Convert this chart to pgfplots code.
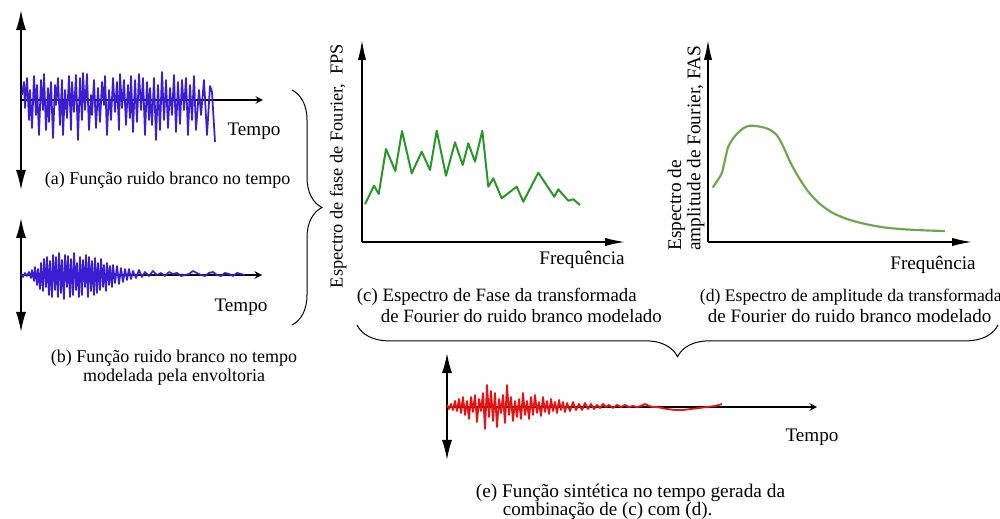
\documentclass[border=0pt]{standalone}
\usepackage{fontspec}
\setmainfont{Liberation Serif}
\usepackage{pgfplots}
\pgfplotsset{compat=1.18}
\usetikzlibrary{arrows.meta,decorations.pathreplacing}
\definecolor{sigblue}{RGB}{60,30,210}
\definecolor{fpsgreen}{RGB}{40,150,40}
\definecolor{fasgreen}{RGB}{110,165,80}
\definecolor{sigred}{RGB}{228,20,20}
\pgfplotsset{
  sk/.style={x=0.6pt,y=0.6pt,ticks=none,clip=false,anchor=origin,
    axis line style={line width=0.95pt,-{Latex[length=13pt,width=5pt]}}},
  skmid/.style={sk,axis lines=middle,
    y axis line style={{Latex[length=12pt,width=6pt]}-{Latex[length=12pt,width=6pt]}}},
  skleft/.style={sk,axis lines=left,xmin=0,ymin=0,
    x axis line style={-{Latex[length=12pt,width=5pt]}},
    y axis line style={-{Latex[length=12pt,width=5pt]}}},
}
\begin{document}
\begin{tikzpicture}
\useasboundingbox (0,0) rectangle (600pt,310.8pt);
% (a) white noise
\begin{axis}[skmid,at={(12.6pt,250.8pt)},xmin=0,xmax=242,ymin=-90,ymax=90]
\addplot[sigblue,line width=1.05pt,line join=round] coordinates {
(1,5) (3,18) (4,-8) (6,22) (8,-20) (9,10) (11,-28) (13,24) (15,-15) (16,15) (18,-35) (20,20) (22,-10) (23,26) (25,-30) (27,12) (28,-22) (30,18) (32,-38) (34,15) (35,-5) (37,22) (39,-25) (41,20) (42,-35) (44,10) (46,-18) (48,24) (50,-30) (51,18) (53,-12) (55,25) (57,-40) (59,22) (61,-20) (62,27) (64,-10) (66,26) (68,-30) (70,5) (71,-15) (73,20) (75,-28) (77,12) (79,-22) (81,18) (83,-5) (84,24) (86,-35) (88,10) (90,-20) (92,22) (94,-12) (96,18) (98,-30) (99,26) (101,-8) (103,20) (105,-25) (107,15) (109,-18) (110,24) (112,-32) (114,20) (116,-22) (118,26) (120,-10) (122,22) (124,-35) (126,18) (128,-20) (129,12) (131,-25) (133,22) (135,-40) (137,15) (139,-30) (141,28) (143,-20) (145,20) (147,-28) (149,12) (151,-15) (153,25) (155,-32) (157,18) (159,-24) (161,20) (163,-10) (165,22) (167,-35) (169,15) (171,-20) (173,24) (175,-30) (178,10) (180,-15) (183,20) (186,-35) (189,14) (191,8) (194,-42)
};
\end{axis}
% (b) modulated noise
\begin{axis}[skmid,at={(12.6pt,145.8pt)},xmin=0,xmax=241,ymin=-57,ymax=57]
\addplot[sigblue,line width=1.05pt,line join=round] coordinates {
(0,1) (2,-2) (4,2) (6,-1) (8,3) (10,-3) (11,5) (13,-6) (14,8) (16,-10) (17,6) (19,-14) (20,12) (22,-16) (23,16) (25,-12) (26,18) (28,-20) (29,14) (31,-22) (32,20) (34,-15) (35,18) (37,-22) (38,22) (40,-18) (41,15) (43,-24) (44,20) (46,-12) (47,19) (49,-22) (50,16) (52,-20) (53,22) (55,-15) (56,12) (58,-22) (59,18) (61,-20) (62,15) (64,-12) (65,20) (67,-22) (68,18) (70,-16) (71,14) (73,-20) (74,17) (76,-18) (77,12) (79,-15) (80,16) (82,-12) (83,10) (85,-16) (86,12) (88,-10) (89,9) (91,-12) (92,10) (94,-8) (96,9) (98,-9) (100,7) (102,-7) (104,6) (106,-5) (108,6) (110,-4) (112,4) (115,-3) (118,5) (121,-2) (124,3) (128,-1) (132,4) (136,0) (140,2) (144,-1) (148,3) (152,1) (156,2) (160,-1) (164,0) (168,1) (172,4) (176,2) (180,0) (184,-1) (188,2) (192,3) (196,0) (200,-1) (204,2) (208,1) (212,-1) (216,2) (220,1) (224,0)
};
\end{axis}
% (c) phase spectrum
\begin{axis}[skleft,at={(217.2pt,165.6pt)},xmax=263,ymax=202]
\addplot[fpsgreen,line width=1.2pt,line join=round] coordinates {
(3,37.7) (12,56.3) (16.7,48) (24,93) (33.3,71) (40,111) (49.7,68.7) (59.7,90.3) (68,72) (74.7,111.3) (84,66.3) (93,99.7) (100.7,77) (106.3,98.7) (113,80.3) (120.3,111.3) (126.3,55.3) (131.3,63.7) (139.7,43.7) (154.7,55.3) (161.3,40.3) (176.3,69.3) (192.3,45.3) (196.3,52.7) (206.3,41.3) (211.3,42.7) (218,37)
};
\end{axis}
% (d) amplitude spectrum
\begin{axis}[skleft,at={(424.8pt,165.6pt)},xmax=264,ymax=202]
\addplot[fasgreen,line width=1.3pt,smooth] coordinates {
(4.7,54.3) (8.7,60.3) (13.7,68.7) (17,82) (20.3,95.3) (27,106) (35.3,113.7) (42,116.3) (52,115.3) (60.3,113) (68.7,107) (75.3,95.3) (82,80.3) (90.3,65.3) (100.3,50.3) (112,38) (125.3,28.7) (142,22) (158.7,17.7) (175.3,14.7) (192,13) (208.7,12) (225.3,11.3) (237,11)
};
\end{axis}
% (e) synthetic signal
\begin{axis}[skmid,at={(268.2pt,66.6pt)},xmin=0,xmax=370,ymin=-53,ymax=54]
\addplot[sigred,line width=1.1pt,line join=round] coordinates {
(0,2) (2,-2) (4,3) (6,-3) (8,6) (10,-4) (12,8) (14,-6) (16,10) (18,-8) (20,6) (22,-12) (24,10) (26,-5) (28,12) (30,-15) (32,8) (34,-4) (36,14) (38,-22) (40,22) (42,-10) (44,16) (46,-14) (48,14) (50,-20) (52,8) (54,-6) (56,12) (58,-16) (60,22) (62,-8) (64,10) (66,-14) (68,6) (70,-10) (72,8) (74,-12) (76,14) (78,-8) (80,6) (82,-12) (84,10) (86,-8) (88,12) (90,-6) (92,5) (94,-9) (96,10) (98,-5) (100,6) (102,-7) (104,8) (106,-4) (108,5) (110,-6) (112,7) (114,-3) (116,5) (118,-5) (120,4) (123,-4) (126,5) (129,-3) (132,3) (135,-3) (138,4) (141,-2) (144,3) (147,-2) (150,2) (153,-1) (156,3) (159,0) (162,2) (166,-1) (170,2) (174,0) (178,2) (182,0) (186,1) (190,0) (194,1) (198,3) (202,1) (206,0) (210,0) (215,-1) (220,-2) (228,-3) (236,-3) (244,-2) (252,-1) (260,0) (268,1) (275,3)
};
\end{axis}
\begin{scope}[yshift=310.8pt,x=0.6pt,y=-0.6pt]
\node[font=\fontsize{11.5}{13}\selectfont] at (254,131) {Tempo};
\node[anchor=west,font=\fontsize{10.8}{12}\selectfont] at (39,180) {(a) Função ruido branco no tempo};
\node[font=\fontsize{11.5}{13}\selectfont] at (241,307) {Tempo};
\node[align=center,font=\fontsize{10.8}{11.7}\selectfont] at (174,367.5) {(b) Função ruido branco no tempo\\modelada pela envoltoria};
\node[rotate=90,font=\fontsize{11}{13}\selectfont] at (338,166) {Espectro de fase de Fourier,\ \ FPS};
\node[font=\fontsize{11.5}{13}\selectfont] at (582,260) {Frequência};
\node[anchor=west,font=\fontsize{11.3}{13}\selectfont] at (351,297) {(c) Espectro de Fase da transformada};
\node[anchor=west,font=\fontsize{11.3}{13}\selectfont] at (375,316) {de Fourier do ruido branco modelado};
\node[rotate=90,anchor=west,align=left,inner sep=0pt,font=\fontsize{11.6}{10.5}\selectfont] at (686,251) {Espectro de\\amplitude de Fourier,\ FAS};
\node[font=\fontsize{11.5}{13}\selectfont] at (933,265) {Frequência};
\node[anchor=west,font=\fontsize{10.6}{13}\selectfont] at (694,297) {(d) Espectro de amplitude da transformada};
\node[anchor=west,font=\fontsize{11.4}{13}\selectfont] at (702,316) {de Fourier do ruido branco modelado};
\node[font=\fontsize{11.5}{13}\selectfont] at (812,437) {Tempo};
\node[anchor=west,font=\fontsize{11.6}{13}\selectfont] at (470,493) {(e) Função sintética no tempo gerada da};
\node[anchor=west,font=\fontsize{11.4}{13}\selectfont] at (497,511) {combinação de (c) com (d).};
\draw[line width=0.6pt,decorate,decoration={brace,amplitude=18pt}] (292,90) -- (292,325);
\draw[line width=0.6pt,decorate,decoration={brace,amplitude=19pt}] (998,325) -- (357,325);
\end{scope}
\end{tikzpicture}
\end{document}
